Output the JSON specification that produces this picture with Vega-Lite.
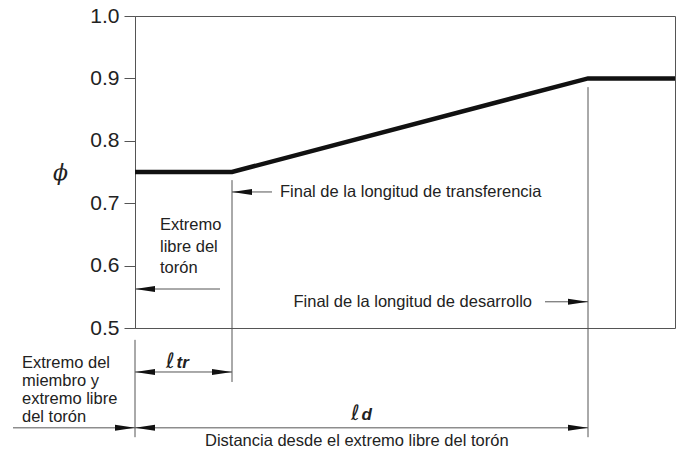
{
  "$schema": "https://vega.github.io/schema/vega-lite/v6.json",
  "width": 540,
  "height": 312,
  "autosize": {"type": "none"},
  "padding": {"left": 135, "top": 16, "right": 5, "bottom": 128},
  "background": "white",
  "config": {
    "view": {"stroke": "#555", "strokeWidth": 1},
    "font": "Liberation Sans",
    "text": {"font": "Liberation Sans", "color": "#222"}
  },
  "datasets": {
    "curve": [
      {"d": 0, "phi": 0.75},
      {"d": 9.7, "phi": 0.75},
      {"d": 45.3, "phi": 0.9},
      {"d": 54, "phi": 0.9}
    ],
    "vlines": [
      {"d": 0, "y1": 0.481, "y2": 0.325},
      {"d": 9.7, "y1": 0.737, "y2": 0.4135},
      {"d": 45.3, "y1": 0.886, "y2": 0.325}
    ],
    "shafts": [
      {"d1": 9.7, "d2": 13.7, "y": 0.718},
      {"d1": 0, "d2": 8.5, "y": 0.5625},
      {"d1": 41.0, "d2": 45.3, "y": 0.542},
      {"d1": 0, "d2": 9.7, "y": 0.4295},
      {"d1": -12.2, "d2": 45.3, "y": 0.34}
    ],
    "headsLeft": [
      {"d": 9.7, "y": 0.718},
      {"d": 0, "y": 0.5625},
      {"d": 0, "y": 0.4295},
      {"d": 0, "y": 0.34}
    ],
    "headsRight": [
      {"d": 45.3, "y": 0.542},
      {"d": 9.7, "y": 0.4295},
      {"d": 45.3, "y": 0.34},
      {"d": 0, "y": 0.34}
    ],
    "textsLeft": [
      {"d": 14.5, "y": 0.718, "t": "Final de la longitud de transferencia"},
      {"d": 2.5, "y": 0.665, "t": "Extremo"},
      {"d": 2.5, "y": 0.63, "t": "libre del"},
      {"d": 2.5, "y": 0.596, "t": "torón"},
      {"d": -11.3, "y": 0.444, "t": "Extremo del"},
      {"d": -11.3, "y": 0.415, "t": "miembro y"},
      {"d": -11.3, "y": 0.386, "t": "extremo libre"},
      {"d": -11.3, "y": 0.357, "t": "del torón"},
      {"d": 7.0, "y": 0.319, "t": "Distancia desde el extremo libre del torón"}
    ],
    "textsRight": [
      {"d": 39.7, "y": 0.542, "t": "Final de la longitud de desarrollo"}
    ],
    "ell": [
      {"d": 3.1, "y": 0.436, "t": "ℓ"},
      {"d": 21.6, "y": 0.353, "t": "ℓ"}
    ],
    "subs": [
      {"d": 4.15, "y": 0.436, "t": "tr"},
      {"d": 22.65, "y": 0.353, "t": "d"}
    ]
  },
  "layer": [
    {
      "data": {"name": "vlines"},
      "mark": {"type": "rule", "color": "#555", "strokeWidth": 1},
      "encoding": {
        "x": {"field": "d", "type": "quantitative", "scale": {"domain": [0, 54], "nice": false, "zero": false}, "axis": null},
        "y": {"field": "y1", "type": "quantitative", "scale": {"domain": [0.5, 1.0], "nice": false, "zero": false},
          "axis": {"values": [0.5, 0.6, 0.7, 0.8, 0.9, 1.0], "format": ".1f", "labelFontSize": 21, "labelColor": "#222", "labelFont": "Liberation Sans",
            "tickColor": "#555", "domainColor": "#555", "tickSize": 11, "labelPadding": 5, "grid": false,
            "title": "ϕ", "titleAngle": 0, "titleFontStyle": "italic", "titleFontWeight": "normal", "titleFontSize": 22, "titleColor": "#222",
            "titleFont": "DejaVu Serif", "titleX": -75, "titleY": 156, "titleAlign": "center", "titleBaseline": "middle"}},
        "y2": {"field": "y2"}
      }
    },
    {
      "data": {"name": "shafts"},
      "mark": {"type": "rule", "color": "#555", "strokeWidth": 1},
      "encoding": {
        "x": {"field": "d1", "type": "quantitative"},
        "x2": {"field": "d2"},
        "y": {"field": "y", "type": "quantitative"}
      }
    },
    {
      "data": {"name": "curve"},
      "mark": {"type": "line", "color": "#111", "strokeWidth": 4.5, "strokeJoin": "miter"},
      "encoding": {
        "x": {"field": "d", "type": "quantitative"},
        "y": {"field": "phi", "type": "quantitative"}
      }
    },
    {
      "data": {"name": "headsLeft"},
      "mark": {"type": "point", "shape": "M0,0 L2,-0.3 L2,0.3 Z", "size": 400, "filled": true, "color": "#111", "opacity": 1},
      "encoding": {
        "x": {"field": "d", "type": "quantitative"},
        "y": {"field": "y", "type": "quantitative"}
      }
    },
    {
      "data": {"name": "headsRight"},
      "mark": {"type": "point", "shape": "M0,0 L-2,-0.3 L-2,0.3 Z", "size": 400, "filled": true, "color": "#111", "opacity": 1},
      "encoding": {
        "x": {"field": "d", "type": "quantitative"},
        "y": {"field": "y", "type": "quantitative"}
      }
    },
    {
      "data": {"name": "textsLeft"},
      "mark": {"type": "text", "align": "left", "baseline": "middle", "fontSize": 16.5},
      "encoding": {
        "x": {"field": "d", "type": "quantitative"},
        "y": {"field": "y", "type": "quantitative"},
        "text": {"field": "t"}
      }
    },
    {
      "data": {"name": "textsRight"},
      "mark": {"type": "text", "align": "right", "baseline": "middle", "fontSize": 16.5},
      "encoding": {
        "x": {"field": "d", "type": "quantitative"},
        "y": {"field": "y", "type": "quantitative"},
        "text": {"field": "t"}
      }
    },
    {
      "data": {"name": "ell"},
      "mark": {"type": "text", "align": "left", "baseline": "alphabetic", "fontSize": 21, "fontStyle": "italic", "font": "DejaVu Sans"},
      "encoding": {
        "x": {"field": "d", "type": "quantitative"},
        "y": {"field": "y", "type": "quantitative"},
        "text": {"field": "t"}
      }
    },
    {
      "data": {"name": "subs"},
      "mark": {"type": "text", "align": "left", "baseline": "alphabetic", "fontSize": 17, "fontStyle": "italic", "fontWeight": "bold"},
      "encoding": {
        "x": {"field": "d", "type": "quantitative"},
        "y": {"field": "y", "type": "quantitative"},
        "text": {"field": "t"}
      }
    }
  ]
}
